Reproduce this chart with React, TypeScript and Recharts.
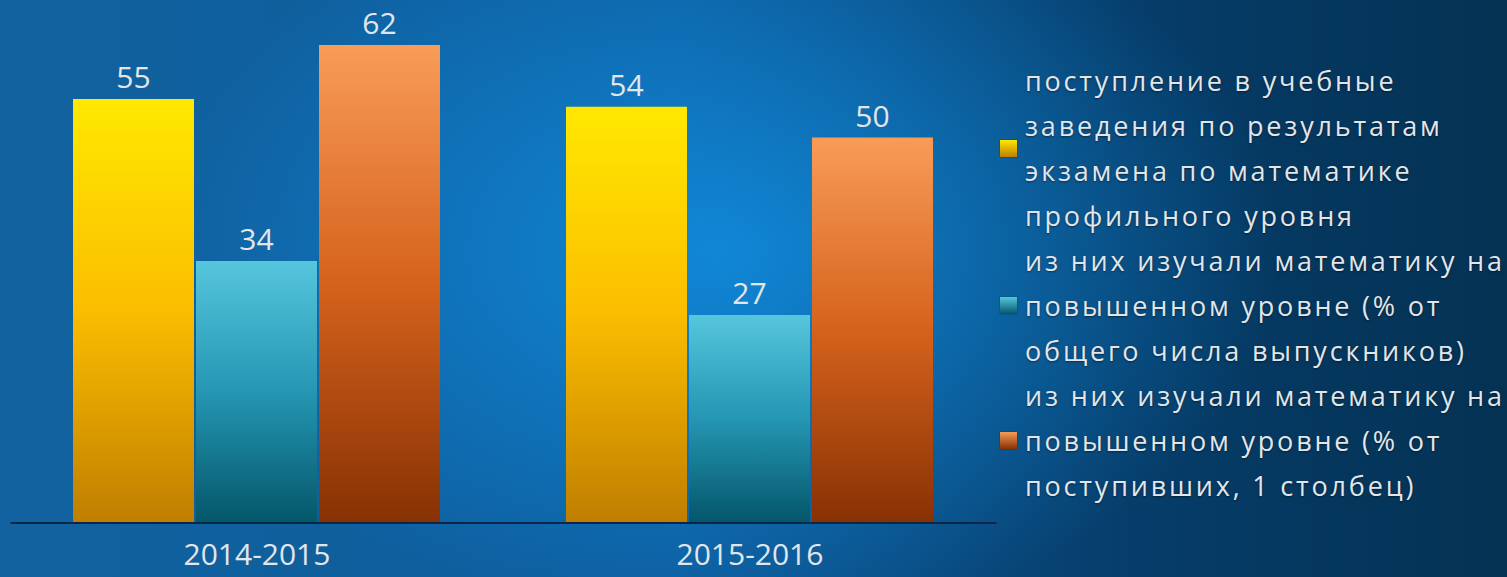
import { Bar, BarChart, LabelList, XAxis, YAxis } from 'recharts';

const years = ['2014-2015', '2015-2016'];
const admitted = [55, 54];
const advancedOfGraduates = [34, 27];
const advancedOfAdmitted = [62, 50];

const series = [
  {
    key: 'admitted',
    grad: 'gradYellow',
    stops: ['#ffe800', '#fbbd00', '#bf7e00'],
    lines: ['поступление в учебные', 'заведения по результатам', 'экзамена по математике', 'профильного уровня'],
  },
  {
    key: 'advGrad',
    grad: 'gradTeal',
    stops: ['#55c6dc', '#2596b3', '#04566a'],
    lines: ['из них изучали математику на', 'повышенном уровне (% от', 'общего числа выпускников)'],
  },
  {
    key: 'advAdm',
    grad: 'gradOrange',
    stops: ['#f89c58', '#d5621c', '#873104'],
    lines: ['из них изучали математику на', 'повышенном уровне (% от', 'поступивших, 1 столбец)'],
  },
];

const data = years.map((year, i) => ({
  year,
  admitted: admitted[i],
  advGrad: advancedOfGraduates[i],
  advAdm: advancedOfAdmitted[i],
}));

const textColor = '#e2e6ea';
const font = '"Open Sans", sans-serif';

function LegendBlock() {
  return (
    <div
      style={{
        position: 'absolute',
        left: 1000,
        top: 58,
        fontFamily: font,
        fontSize: 27,
        lineHeight: '45px',
        color: textColor,
        letterSpacing: 2.8,
        textShadow: '0 1px 2px rgba(0,0,0,0.45)',
      }}
    >
      {series.map((s) => (
        <div key={s.key} style={{ display: 'flex', alignItems: 'center' }}>
          <div
            style={{
              width: 17,
              height: 17,
              flex: '0 0 17px',
              marginRight: 8,
              background: `linear-gradient(180deg, ${s.stops[0]}, ${s.stops[2]})`,
              boxShadow: '0 0 1px rgba(0,0,0,0.6)',
            }}
          />
          <div style={{ whiteSpace: 'nowrap' }}>
            {s.lines.map((l, i) => (
              <div key={i}>{l}</div>
            ))}
          </div>
        </div>
      ))}
    </div>
  );
}

export default function App() {
  return (
    <div
      style={{
        position: 'absolute',
        left: 0,
        top: 0,
        width: 1507,
        height: 577,
        overflow: 'hidden',
        background:
          'radial-gradient(ellipse 560px 380px at 720px 250px, rgba(18,150,235,0.75) 0%, rgba(18,150,235,0) 100%), linear-gradient(90deg, #11629f 0%, #0d5c9c 45%, #063d6a 75%, #043253 100%)',
      }}
    >
      <BarChart
        width={1000}
        height={577}
        data={data}
        margin={{ top: 22, right: 3.5, left: 10.5, bottom: 0 }}
        barCategoryGap={62.5}
        barGap={2}
      >
        <defs>
          {series.map((s) => (
            <linearGradient key={s.grad} id={s.grad} x1="0" y1="0" x2="0" y2="1">
              <stop offset="0%" stopColor={s.stops[0]} />
              <stop offset="50%" stopColor={s.stops[1]} />
              <stop offset="100%" stopColor={s.stops[2]} />
            </linearGradient>
          ))}
        </defs>
        <XAxis
          dataKey="year"
          height={54}
          tickLine={false}
          axisLine={{ stroke: '#0a2748', strokeWidth: 2 }}
          tick={{ fill: textColor, fontSize: 30, fontFamily: font, dy: 13 }}
        />
        <YAxis hide domain={[0, 65]} />
        {series.map((s) => (
          <Bar key={s.key} dataKey={s.key} fill={`url(#${s.grad})`} isAnimationActive={false}>
            <LabelList dataKey={s.key} position="top" offset={11} fill={textColor} fontSize={30} fontFamily={font} />
          </Bar>
        ))}
      </BarChart>
      <LegendBlock />
    </div>
  );
}
